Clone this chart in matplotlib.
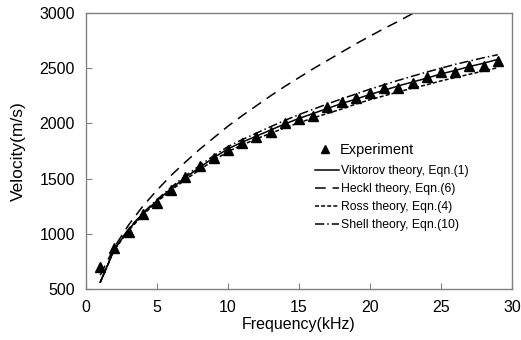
import matplotlib
matplotlib.use("Agg")
import matplotlib.pyplot as plt
from matplotlib.lines import Line2D

# Experimental data
exp_freq = [1, 2, 3, 4, 5, 6, 7, 8, 9, 10, 11, 12, 13, 14, 15, 16, 17, 18, 19, 20,
            21, 22, 23, 24, 25, 26, 27, 28, 29]
exp_vel = [700, 870, 1020, 1180, 1280, 1400, 1510, 1610, 1690, 1760, 1820, 1880, 1920,
           2000, 2040, 2070, 2150, 2190, 2230, 2275, 2320, 2320, 2370, 2420, 2465, 2465,
           2520, 2520, 2565]

# Theory curves
th_freq = [1, 2, 3, 4, 5, 6, 7, 8, 9, 10, 11, 12, 13, 14, 15, 16, 17, 18, 19, 20,
           21, 22, 23, 24, 25, 26, 27, 28, 29]
viktorov = [560, 860, 1040, 1180, 1300, 1410, 1510, 1600, 1690, 1770, 1830, 1885, 1940,
            1995, 2045, 2090, 2135, 2180, 2220, 2262, 2300, 2340, 2375, 2410, 2448, 2480,
            2515, 2545, 2580]
ross = [560, 855, 1030, 1170, 1290, 1395, 1490, 1580, 1665, 1745, 1805, 1860, 1910,
        1960, 2005, 2050, 2090, 2130, 2175, 2215, 2250, 2285, 2320, 2350, 2385, 2415,
        2445, 2475, 2505]
shell = [560, 862, 1045, 1188, 1310, 1422, 1525, 1618, 1708, 1790, 1853, 1912, 1970,
         2027, 2080, 2128, 2176, 2222, 2266, 2310, 2350, 2390, 2428, 2465, 2500, 2535,
         2565, 2595, 2622]
heckl_freq = [1, 2, 3, 4, 5, 6, 7, 8, 9, 10, 11, 12, 13, 14, 15, 16, 17, 18, 19, 20,
              21, 22, 23, 24]
heckl = [625, 880, 1080, 1250, 1395, 1530, 1650, 1765, 1870, 1975, 2070, 2160, 2250,
         2335, 2415, 2495, 2570, 2645, 2720, 2790, 2860, 2925, 2995, 3060]

xticks = [0, 5, 10, 15, 20, 25, 30]
yticks = [500, 1000, 1500, 2000, 2500, 3000]

plt.rcParams['font.family'] = ['Liberation Sans', 'DejaVu Sans']

fig = plt.figure(figsize=(5.21, 3.40), dpi=100)
ax = fig.add_axes([86/521, 51/340, 426/521, 276/340])

lw = 1.1
ax.plot(th_freq, viktorov, color='black', lw=lw, linestyle='-')
ax.plot(heckl_freq, heckl, color='black', lw=lw, linestyle=(0, (7, 4.5)))
ax.plot(th_freq, ross, color='black', lw=lw, linestyle=(0, (2.6, 1.4)))
ax.plot(th_freq, shell, color='black', lw=lw, linestyle=(0, (6, 2, 1, 2)))
ax.plot(exp_freq, exp_vel, linestyle='none', marker='^', color='black',
        markersize=6.5)

ax.set_xlim(0, 30)
ax.set_ylim(500, 3000)
ax.set_xticks(xticks)
ax.set_yticks(yticks)
ax.tick_params(direction='in', length=4, color='#808080', labelsize=11.5)
ax.tick_params(axis='x', pad=8)
ax.tick_params(axis='y', pad=8)
for sp in ax.spines.values():
    sp.set_color('#808080')
    sp.set_linewidth(1.0)

ax.set_xlabel('Frequency(kHz)', fontsize=11.5, labelpad=1)
ax.set_ylabel('Velocity(m/s)', fontsize=12.5, labelpad=10)

h_exp = [Line2D([], [], linestyle='none', marker='^', color='black', markersize=6)]
leg1 = ax.legend(h_exp, ['Experiment'], loc='upper left',
                 bbox_to_anchor=(316/521, (340-143)/340), bbox_transform=fig.transFigure,
                 frameon=False, fontsize=10.5, handlelength=1.2, handletextpad=0.45,
                 borderpad=0, borderaxespad=0)
ax.add_artist(leg1)

h_lines = [Line2D([], [], color='black', lw=lw, linestyle='-'),
           Line2D([], [], color='black', lw=lw, linestyle=(0, (7, 4.5))),
           Line2D([], [], color='black', lw=lw, linestyle=(0, (2.6, 1.4))),
           Line2D([], [], color='black', lw=lw, linestyle=(0, (6, 2, 1, 2)))]
labels = ['Viktorov theory, Eqn.(1)', 'Heckl theory, Eqn.(6)',
          'Ross theory, Eqn.(4)', 'Shell theory, Eqn.(10)']
leg2 = ax.legend(h_lines, labels, loc='upper left',
                 bbox_to_anchor=(315/521, (340-165)/340), bbox_transform=fig.transFigure,
                 frameon=False, prop={'family': ['Liberation Sans Narrow', 'Liberation Sans'], 'size': 8.8},
                 handlelength=2.0, handletextpad=0.1, labelspacing=0.5,
                 borderpad=0, borderaxespad=0)

fig.savefig('out.png', dpi=100)
